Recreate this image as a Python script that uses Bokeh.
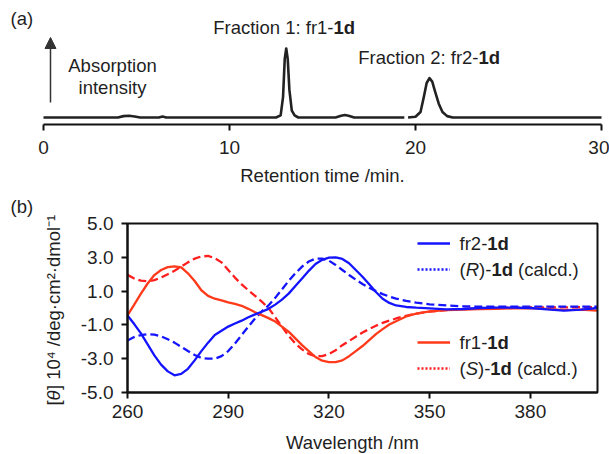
import math
from bokeh.plotting import figure
from bokeh.models import (Range1d, FixedTicker, PrintfTickFormatter, Label, Arrow, NormalHead,
                          Legend, LegendItem, LinearAxis, BoxAnnotation)
from bokeh.core.properties import value
from bokeh.embed import file_html
from bokeh.resources import INLINE

# ---------------- data ----------------
# (a) HPLC chromatogram (relative absorption, peak of fraction 1 = 1.0); NaN = break in trace
hplc_time = [0, 4.0, 4.3, 4.6, 4.9, 5.2, 6.2, 6.4, 6.6, 12.5, 12.75, 12.88, 12.97, 13.05, 13.13,
             13.22, 13.35, 13.5, 13.7, 15.7, 16.0, 16.2, 16.4, 16.7, 19.4, 19.5, 19.6, 20.0,
             20.27, 20.45, 20.6, 20.75, 20.9, 21.05, 21.25, 21.45, 21.7, 22.0, 30]
hplc_signal = [0, 0, 0.02, 0.025, 0.015, 0, 0, 0.015, 0, 0, 0.03, 0.3, 0.85, 1.0, 0.85,
               0.4, 0.1, 0.03, 0, 0, 0.025, 0.035, 0.025, 0, 0, float("nan"), 0, 0.01,
               0.08, 0.3, 0.5, 0.57, 0.52, 0.38, 0.2, 0.08, 0.02, 0, 0]
retention_ticks = [0, 10, 20, 30]

# (b) CD spectra, [theta] x 10^4
wavelength = [260, 262, 264, 266, 268, 270, 272, 274, 276, 278, 280, 282, 284, 286, 288, 290,
              292, 294, 296, 298, 300, 302, 304, 306, 308, 310, 312, 314, 316, 318, 320, 322,
              324, 326, 328, 330, 332, 334, 336, 338, 340, 343, 346, 350, 355, 360, 365, 370,
              375, 380, 385, 390, 395, 400]
fr2_obs = [-0.44, -0.95, -1.5, -2.15, -2.8, -3.35, -3.75, -3.98, -3.9, -3.6, -3.1, -2.55, -2.05,
           -1.6, -1.35, -1.1, -0.92, -0.75, -0.55, -0.38, -0.22, -0.05, 0.2, 0.5, 0.85, 1.3,
           1.75, 2.2, 2.6, 2.85, 2.98, 3.0, 2.9, 2.65, 2.25, 1.85, 1.4, 0.95, 0.55, 0.3, 0.15,
           0.06, 0.02, -0.02, -0.08, -0.06, 0.0, 0.02, 0.02, 0.0, -0.08, -0.15, -0.1, 0.0]
r_calcd = [-1.92, -1.72, -1.6, -1.55, -1.58, -1.68, -1.85, -2.05, -2.3, -2.55, -2.78, -2.95,
           -3.0, -3.0, -2.85, -2.55, -2.1, -1.6, -1.1, -0.62, -0.2, 0.15, 0.6, 1.1, 1.6, 2.05,
           2.45, 2.75, 2.92, 2.92, 2.8, 2.55, 2.25, 1.95, 1.68, 1.42, 1.2, 1.0, 0.82, 0.68,
           0.56, 0.42, 0.32, 0.22, 0.15, 0.1, 0.08, 0.08, 0.08, 0.08, 0.08, 0.08, 0.08, 0.08]
fr1_obs = [-0.44, 0.2, 0.85, 1.45, 1.95, 2.25, 2.42, 2.46, 2.4, 2.05, 1.6, 1.05, 0.72, 0.55,
           0.45, 0.33, 0.24, 0.13, -0.05, -0.25, -0.42, -0.6, -0.8, -1.1, -1.4, -1.8, -2.2,
           -2.55, -2.9, -3.12, -3.2, -3.2, -3.1, -2.85, -2.55, -2.25, -1.9, -1.55, -1.25,
           -0.98, -0.78, -0.5, -0.33, -0.2, -0.13, -0.1, -0.07, -0.05, -0.02, 0.0, -0.05,
           -0.12, -0.1, -0.15]
s_calcd = [1.96, 1.75, 1.62, 1.58, 1.65, 1.8, 2.0, 2.2, 2.45, 2.7, 2.92, 3.05, 3.08, 2.95, 2.7,
           2.25, 1.8, 1.4, 1.05, 0.72, 0.38, 0.0, -0.55, -1.1, -1.65, -2.1, -2.45, -2.72,
           -2.85, -2.85, -2.72, -2.5, -2.2, -1.95, -1.7, -1.45, -1.25, -1.05, -0.88, -0.75,
           -0.62, -0.46, -0.33, -0.22, -0.12, -0.06, -0.03, 0.0, 0.02, 0.03, 0.04, 0.04, 0.05,
           0.05]
wavelength_ticks = [260, 290, 320, 350, 380]
theta_ticks = [-5, -3, -1, 1, 3, 5]

# ---------------- style ----------------
FONT = "Liberation Sans"
FS = "18.5px"
TICK_FS = "19px"
TXT = "#1f1f1f"
AXC = "#111111"
BLUE = "#1414FF"
RED_OBS = "#FF3A1A"
RED_CALC = "#FF1E1E"
NAN = float("nan")
W = 609
H1, H2 = 190, 264   # heights of panel (a) and panel (b)


def lab(p, h, px, py, text, align="left", style="normal", angle=0.0):
    # px, py: pixel position inside the figure (from its top-left corner)
    p.add_layout(Label(x=px, y=h - py, x_units="screen", y_units="screen",
                       text=text, text_align=align, text_baseline="middle",
                       text_font=FONT, text_font_size=FS, text_font_style=style,
                       text_color=TXT, angle=angle))


def style_axis(a, standoff):
    a.axis_line_width = 2
    a.axis_line_color = AXC
    a.major_tick_line_width = 2
    a.major_tick_line_color = AXC
    a.major_tick_out = 6
    a.major_tick_in = 0
    a.minor_tick_line_color = None
    a.major_label_text_font = FONT
    a.major_label_text_font_size = TICK_FS
    a.major_label_text_color = TXT
    a.major_label_standoff = standoff


# ---------------- (a) ----------------
# frame fills the whole canvas: 0 min at x=43 px, 30 min at x=601 px; baseline at y=117 px
PXM = 558 / 30
PXI = 69
top = figure(width=W, height=H1,
             x_range=Range1d(-43 / PXM, (W - 43) / PXM),
             y_range=Range1d(-(H1 - 117) / PXI, 117 / PXI),
             output_backend="svg", toolbar_location=None,
             x_axis_location=None, y_axis_location=None,
             min_border_left=0, min_border_right=0, min_border_top=0, min_border_bottom=0)
top.outline_line_color = None
top.grid.visible = False
top.line(hplc_time, hplc_signal, line_color="#222222", line_width=2.6, line_join="round")

tax = LinearAxis(fixed_location=-(124 - 117) / PXI, bounds=(0, 30),
                 ticker=FixedTicker(ticks=retention_ticks))
style_axis(tax, 10)
top.add_layout(tax, "below")


def tl(px, py, text, **kw):
    lab(top, H1, px, py, text, **kw)


tl(10, 18, "(a)")
tl(333, 27, "Fraction 1: fr1-", align="right")
tl(333, 27, "1d", style="bold")
tl(478, 57, "Fraction 2: fr2-", align="right")
tl(478, 57, "1d", style="bold")
tl(112, 65, "Absorption", align="center")
tl(112, 87, "intensity", align="center")
tl(322, 175, "Retention time /min.", align="center")
top.add_layout(Arrow(end=NormalHead(size=11, fill_color="#333333", line_color="#333333"),
                     x_start=50, y_start=H1 - 102, x_end=50, y_end=H1 - 37,
                     start_units="screen", end_units="screen",
                     line_width=1.5, line_color="#333333"))

# ---------------- (b) ----------------
# frame fills the whole canvas: 260 nm at x=127, 400 nm at x=597; +5 at y=33, -5 at y=202
PXN = 470 / 140
PXT = 16.9
bot = figure(width=W, height=H2,
             x_range=Range1d(260 - 127 / PXN, 400 + (W - 597) / PXN),
             y_range=Range1d(-5 - (H2 - 202) / PXT, 5 + 33 / PXT),
             output_backend="svg", toolbar_location=None,
             x_axis_location=None, y_axis_location=None,
             min_border_left=0, min_border_right=0, min_border_top=0, min_border_bottom=0)
bot.grid.visible = False
bot.outline_line_color = None

bot.line(wavelength, s_calcd, line_color=RED_CALC, line_width=2.3, line_dash="8 4")
bot.line(wavelength, r_calcd, line_color=BLUE, line_width=2.3, line_dash="8 4")
r_fr1 = bot.line(wavelength, fr1_obs, line_color=RED_OBS, line_width=2.3)
r_fr2 = bot.line(wavelength, fr2_obs, line_color=BLUE, line_width=2.3)

bot.add_layout(BoxAnnotation(left=260, right=400, bottom=-5, top=5, fill_color=None,
                             line_color=AXC, line_width=2, line_alpha=1))

bx = LinearAxis(fixed_location=-5, bounds=(260, 400), ticker=FixedTicker(ticks=wavelength_ticks))
style_axis(bx, 6)
bot.add_layout(bx, "below")
by = LinearAxis(fixed_location=260, bounds=(-5, 5), ticker=FixedTicker(ticks=theta_ticks),
                formatter=PrintfTickFormatter(format="%.1f"))
style_axis(by, 8)
bot.add_layout(by, "left")


def bl(px, py, text, **kw):
    lab(bot, H2, px, py - H1, text, **kw)


# dotted legend swatches: renderers with no drawable points
sw_r = bot.line([NAN, NAN], [NAN, NAN], line_color=BLUE, line_width=2.3, line_dash="2 2")
sw_s = bot.line([NAN, NAN], [NAN, NAN], line_color=RED_CALC, line_width=2.3, line_dash="2 2")


def make_legend(items, loc):
    lg = Legend(items=items, location=loc, padding=0, spacing=0, margin=0,
                glyph_width=33, glyph_height=26, label_height=26, label_width=1,
                label_standoff=0, label_text_font_size="2px",
                border_line_alpha=0, background_fill_alpha=0)
    bot.add_layout(lg)


make_legend([LegendItem(label=value("\u00a0"), renderers=[r_fr2]),
             LegendItem(label=value("\u00a0"), renderers=[sw_r])], (417, 454 - 282))
make_legend([LegendItem(label=value("\u00a0"), renderers=[r_fr1]),
             LegendItem(label=value("\u00a0"), renderers=[sw_s])], (417, 454 - 381))

for (yy, nm) in ((243, "fr2-"), (342, "fr1-")):
    bl(486.8, yy, nm, align="right")
    bl(486.8, yy, "1d", style="bold")
for (yy, ch, w) in ((269, "R", 13.4), (368, "S", 12.3)):
    x0 = 465.2
    bl(x0, yy, "(", align="right")
    bl(x0, yy, ch, style="italic")
    x1 = x0 + w
    bl(x1, yy, ")-")
    x2 = x1 + 12.3
    bl(x2, yy, "1d", style="bold")
    bl(x2 + 26.7, yy, "(calcd.)")

bl(10, 206, "(b)")
bl(352, 442, "Wavelength /nm", align="center")

# rotated y-axis title in pieces
ang = math.pi / 2
bl(53, 405, "[", angle=ang)
bl(53, 399.9, "θ", style="italic", angle=ang)
bl(53, 389.6, "] 10⁴ /deg·cm²·dmol⁻¹", angle=ang)

open("out.html", "w").write(file_html([top, bot], INLINE))
